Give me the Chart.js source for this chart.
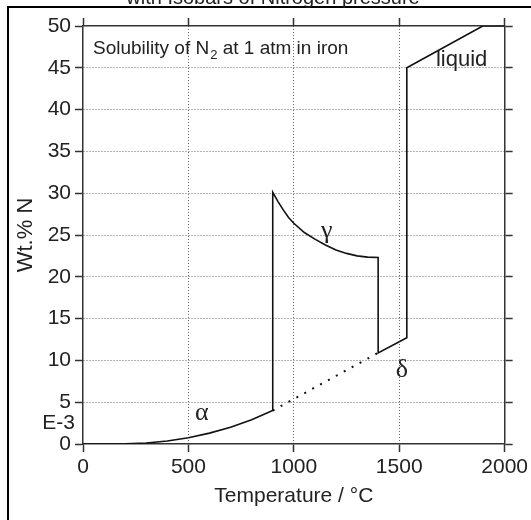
<!DOCTYPE html>
<html>
<head>
<meta charset="utf-8">
<script src="https://cdn.jsdelivr.net/npm/chart.js@4.4.1/dist/chart.umd.min.js"></script>
<style>
  html, body { margin: 0; padding: 0; background: #fff; }
  #wrap { width: 531px; height: 520px; position: relative; }
</style>
</head>
<body>
<div id="wrap"><canvas id="solChart"></canvas></div>
<script>
// solubility curve (alpha -> gamma -> delta -> liquid), one connected line
var temps = [0, 100, 200, 300, 400, 500, 600, 700, 800, 900,
             900, 925, 950, 975, 1000, 1050, 1100, 1150, 1200, 1250, 1300, 1350, 1400,
             1400, 1536, 1536, 1896, 2000];
var wtN = [0, 0, 0.02, 0.12, 0.35, 0.75, 1.3, 2.0, 2.9, 4.0,
           30.1, 29.0, 28.0, 27.1, 26.4, 25.3, 24.5, 23.8, 23.2, 22.8, 22.5, 22.35, 22.3,
           10.9, 12.7, 45, 50, 50];

// dotted extension of the alpha line
var extTemps = [900, 1400];
var extWtN = [4.0, 10.9];

var xTicks = [0, 500, 1000, 1500, 2000];
var yTicks = [0, 5, 10, 15, 20, 25, 30, 35, 40, 45, 50];

// phase labels
var phaseText = ['\u03b1', '\u03b3', '\u03b4', 'liquid'];
var phaseT = [564, 1156, 1512, 1796];
var phaseN = [3.7, 25.4, 8.85, 45.9];

function pts(xs, ys) {
    return xs.map(function (x, i) { return { x: x, y: ys[i] }; });
}

var ink = '#111';
var axisCol = '#333';
var gridCol = '#666';
var sans = '"Liberation Sans", Arial, sans-serif';

// frame, heading and text annotations
var extras = {
    id: 'extras',
    afterDraw: function (chart) {
        var ctx = chart.ctx;
        var xs = chart.scales.x, ys = chart.scales.y;
        ctx.save();
        // outer frame (cropped)
        ctx.strokeStyle = '#000';
        ctx.lineWidth = 2;
        ctx.beginPath();
        ctx.moveTo(8, 520);
        ctx.lineTo(8, 7);
        ctx.lineTo(531, 7);
        ctx.stroke();

        // cut-off heading
        ctx.fillStyle = '#222';
        ctx.font = '20px ' + sans;
        ctx.textAlign = 'center';
        ctx.textBaseline = 'alphabetic';
        ctx.fillText('with Isobars of Nitrogen pressure', 273, 4);

        // inset text with subscript
        ctx.textAlign = 'left';
        ctx.font = '19px ' + sans;
        var x0 = 93, yb = 54;
        var s1 = 'Solubility of N';
        ctx.fillText(s1, x0, yb);
        var w1 = ctx.measureText(s1).width;
        ctx.font = '13px ' + sans;
        ctx.fillText('2', x0 + w1 + 1, yb + 5);
        var w2 = ctx.measureText('2').width;
        ctx.font = '19px ' + sans;
        ctx.fillText(' at 1 atm in iron', x0 + w1 + w2 + 1, yb);

        // E-3 marker on y axis
        ctx.textAlign = 'right';
        ctx.textBaseline = 'middle';
        ctx.font = '21px ' + sans;
        ctx.fillText('E-3', chart.chartArea.left - 8, ys.getPixelForValue(2.5));

        // phase labels
        ctx.textAlign = 'center';
        for (var i = 0; i < phaseText.length; i++) {
            if (phaseText[i] === 'liquid') {
                ctx.font = '22px ' + sans;
            } else {
                ctx.font = '26px "Liberation Serif", "Times New Roman", serif';
            }
            ctx.fillText(phaseText[i], xs.getPixelForValue(phaseT[i]), ys.getPixelForValue(phaseN[i]));
        }
        ctx.restore();
    }
};

function gridColor(ctx) {
    var v = ctx.tick ? ctx.tick.value : null;
    var sc = ctx.scale;
    if (v === sc.min || v === sc.max) return 'rgba(0,0,0,0)';
    return gridCol;
}

function plainLabel(v) { return String(v); }

var tickFont = { family: sans, size: 21 };

var chart = new Chart(document.getElementById('solChart').getContext('2d'), {
    type: 'line',
    data: {
        datasets: [{
            data: pts(temps, wtN),
            borderColor: ink,
            borderWidth: 1.6,
            pointRadius: 0,
            tension: 0,
            xAxisID: 'x',
            yAxisID: 'y'
        }, {
            data: pts(extTemps, extWtN),
            borderColor: ink,
            borderWidth: 2,
            borderDash: [2, 7],
            pointRadius: 0,
            xAxisID: 'x',
            yAxisID: 'y'
        }]
    },
    options: {
        responsive: true,
        maintainAspectRatio: false,
        animation: false,
        layout: { padding: 0 },
        plugins: {
            legend: { display: false },
            tooltip: { enabled: false }
        },
        scales: {
            x: {
                type: 'linear',
                position: 'bottom',
                min: 0, max: 2000,
                afterBuildTicks: function (s) { s.ticks = xTicks.map(function (v) { return { value: v }; }); },
                afterFit: function (s) { s.height = 76; },
                ticks: { font: tickFont, color: '#222', padding: 3, maxRotation: 0, callback: plainLabel },
                grid: { color: gridColor, tickLength: 8, tickColor: axisCol, tickWidth: 1.5, lineWidth: 1 },
                border: { color: axisCol, width: 1.5, dash: [1, 2] },
                title: {
                    display: true,
                    text: 'Temperature / \u00b0C',
                    font: { family: sans, size: 21 },
                    color: '#222',
                    padding: { top: 0, bottom: 11 }
                }
            },
            x2: {
                type: 'linear',
                position: 'top',
                min: 0, max: 2000,
                afterBuildTicks: function (s) { s.ticks = xTicks.map(function (v) { return { value: v }; }); },
                afterFit: function (s) { s.height = 26; },
                ticks: { callback: function () { return ''; } },
                grid: { drawOnChartArea: false, tickLength: 8, tickColor: axisCol, tickWidth: 1.5 },
                border: { color: axisCol, width: 1.5 }
            },
            y: {
                type: 'linear',
                position: 'left',
                min: 0, max: 50,
                afterBuildTicks: function (s) { s.ticks = yTicks.map(function (v) { return { value: v }; }); },
                afterFit: function (s) { s.width = 83; },
                ticks: { font: tickFont, color: '#222', padding: 4, callback: plainLabel },
                grid: { color: gridColor, tickLength: 8, tickColor: axisCol, tickWidth: 1.5, lineWidth: 1 },
                border: { color: axisCol, width: 1.5, dash: [1, 2] },
                title: {
                    display: true,
                    text: 'Wt.% N',
                    font: { family: sans, size: 22 },
                    color: '#222',
                    padding: { top: 13, bottom: 0 }
                }
            },
            y2: {
                type: 'linear',
                position: 'right',
                min: 0, max: 50,
                afterBuildTicks: function (s) { s.ticks = yTicks.map(function (v) { return { value: v }; }); },
                afterFit: function (s) { s.width = 26; },
                ticks: { callback: function () { return ''; } },
                grid: { drawOnChartArea: false, tickLength: 8, tickColor: axisCol, tickWidth: 1.5 },
                border: { color: axisCol, width: 1.5 }
            }
        }
    },
    plugins: [extras]
});
</script>
</body>
</html>
